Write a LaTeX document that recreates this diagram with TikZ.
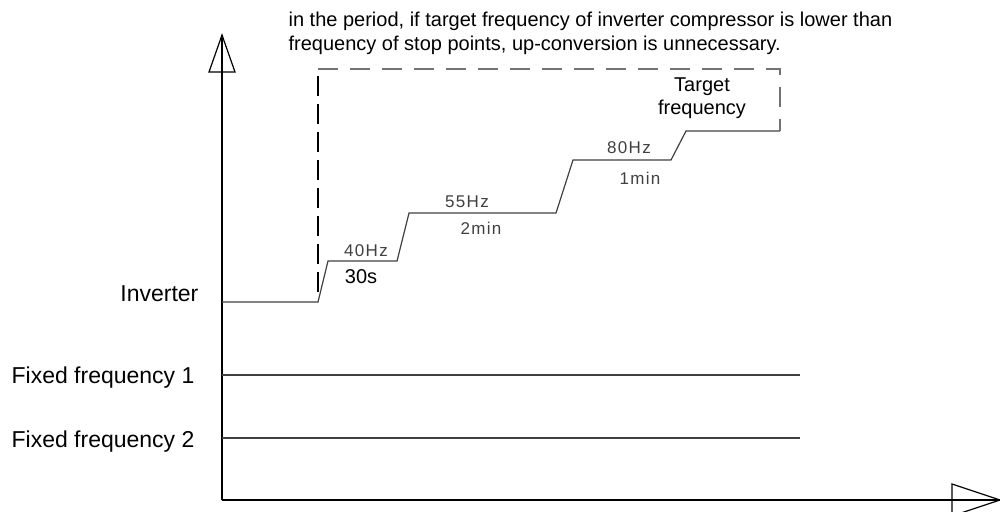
\documentclass[tikz,border=0pt]{standalone}
\usepackage{fontspec}
\setmainfont{Liberation Sans}
\newfontfamily\cadfont[LetterSpace=8]{Liberation Sans}

\begin{document}
\begin{tikzpicture}[x=0.5pt,y=-0.5pt,line width=0.6pt,
	lbl/.style={inner sep=0pt,font=\fontsize{11.5}{13}\selectfont},
	txt/.style={inner sep=0pt,font=\fontsize{10}{11.5}\selectfont},
	cad/.style={inner sep=0pt,text=black!75,font=\fontsize{8.5}{10}\cadfont}]
	\clip (0,0) rectangle (1000,511);

	%axes with open heads
	\draw (222,500)--(222,35);
	\draw (209,72)--(222,35)--(235,72)--cycle;
	\draw (222,500)--(1000,500);
	\draw (952,484)--(1000,500)--(952,516)--cycle;

	%stepped inverter frequency
	\draw[black!75] (222,302)--(318,302)--(328,261)--(397,261)--(409,213)--(556,213)
		--(573,160)--(671,160)--(686,131)--(780,131);
	\draw[dash pattern=on 10pt off 4pt] (318,292)--(318,69);
	\draw[black!55,dash pattern=on 10pt off 6pt] (318,69)--(780,69)--(780,131);

	%fixed frequency lines
	\foreach \y in {375,438}
	\draw[black!75] (222,\y)--(800,\y);

	%LABELS
	\node[txt,anchor=base west] (note1) at (288,26) {in the period, if target frequency of inverter compressor is lower than};
	\node[txt,anchor=base west] (note2) at (288,50) {frequency of stop points, up-conversion is unnecessary.};
	\node[txt,align=center] (target) at (702,98) {Target\\frequency};
	\node[lbl,anchor=east] (inv) at (199,294) {Inverter};
	\node[lbl,anchor=west] (fix1) at (11,378) {Fixed frequency 1};
	\node[lbl,anchor=west] (fix2) at (11,442) {Fixed frequency 2};
	\node[cad] (f40) at (366,251) {40Hz};
	\node[txt] (t30) at (361,277) {30s};
	\node[cad] (f55) at (467,202) {55Hz};
	\node[cad] (t2) at (481,228) {2min};
	\node[cad] (f80) at (629,148) {80Hz};
	\node[cad] (t1) at (640,178) {1min};
\end{tikzpicture}
\end{document}
